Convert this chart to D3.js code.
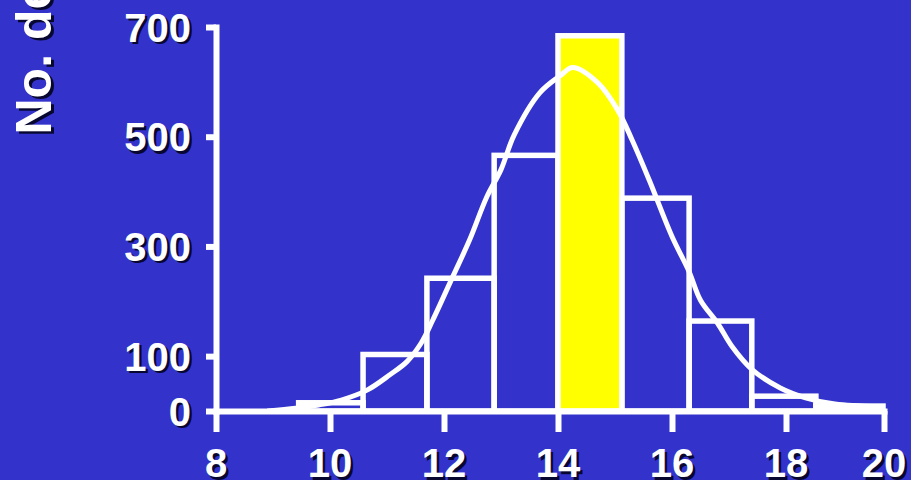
<!DOCTYPE html>
<html><head><meta charset="utf-8">
<script src="https://cdn.jsdelivr.net/npm/d3@7"></script>
<style>html,body{margin:0;padding:0;background:#3333cc;overflow:hidden}svg{display:block}</style>
</head><body>
<svg id="c" width="911" height="480"></svg>
<script>
// ---- data ----
const binEdges = [9.45, 10.58, 11.70, 12.88, 14.0, 15.12, 16.30, 17.40, 18.61, 19.98];
const binCounts = [15, 103, 242, 466, 684, 388, 164, 27, 9];
const highlightBin = 4;
const curveX = [8.9, 9.4, 9.8, 10.2, 10.65, 11.05, 11.35, 11.6, 11.8, 12.15, 12.45, 12.75, 13.0, 13.23, 13.68, 14.05, 14.26, 14.7, 15.05, 15.3, 15.6, 16.0, 16.3, 16.5, 16.8, 17.05, 17.4, 17.9, 18.4, 19.0, 19.9];
const curveY = [0, 5, 11, 20, 38, 66, 90, 124, 165, 244, 312, 390, 440, 503, 580, 612, 626, 598, 548, 494, 421, 318, 254, 202, 160, 118, 76, 42, 24, 13, 8];
const xTicks = [8, 10, 12, 14, 16, 18, 20];
const yTicks = [0, 100, 300, 500, 700];
const yLabel = "No. de indivíduos";

// ---- layout ----
const svg = d3.select("#c");
const W = 911, H = 480;
svg.append("rect").attr("width", W).attr("height", H).attr("fill", "#3333cc");

const x = d3.scaleLinear().domain([8, 18, 20]).range([216, 786, 884]);
const y = d3.scaleLinear().domain([0, 700]).range([411, 27]);

const FONT = "'Liberation Sans', Arial, Helvetica, sans-serif";
const SH = "rgba(0,0,20,0.85)";

// bars
const bins = binCounts.map((c, i) => ({c, x0: binEdges[i], x1: binEdges[i + 1], i}));
svg.append("g").selectAll("rect").data(bins).join("rect")
  .attr("x", d => x(d.x0))
  .attr("y", d => y(d.c))
  .attr("width", d => x(d.x1) - x(d.x0))
  .attr("height", d => y(0) - y(d.c))
  .attr("fill", d => d.i === highlightBin ? "#ffff00" : "none")
  .attr("stroke", "#ffffff")
  .attr("stroke-width", 5.5);

// curve
const pts = curveX.map((v, i) => [v, curveY[i]]);
svg.append("path")
  .attr("d", d3.line().x(d => x(d[0])).y(d => y(d[1])).curve(d3.curveCatmullRom.alpha(0.5))(pts))
  .attr("fill", "none").attr("stroke", "#ffffff").attr("stroke-width", 5)
  .attr("stroke-linejoin", "round");

// axes
const gx = svg.append("g").attr("transform", `translate(0,${y(0)})`)
  .call(d3.axisBottom(x).tickValues(xTicks).tickSize(21).tickSizeOuter(0).tickFormat(""));
const gy = svg.append("g").attr("transform", `translate(${x(8)},0)`)
  .call(d3.axisLeft(y).tickValues(yTicks).tickSize(10).tickSizeOuter(0).tickFormat(""));
[gx, gy].forEach(g => {
  g.select(".domain").attr("stroke", "#fff").attr("stroke-width", 6).attr("stroke-linecap", "square");
  g.selectAll(".tick line").attr("stroke", "#fff").attr("stroke-width", 6);
});

// labels with shadow
function shadowText(g, txt, px, py, anchor, size, rot) {
  const off = 2.5;
  const mk = (dx, dy, col) => g.append("text")
      .attr("transform", `translate(${px + dx},${py + dy})` + (rot ? ` rotate(${rot})` : ""))
      .attr("text-anchor", anchor)
      .attr("font-family", FONT).attr("font-weight", "bold").attr("font-size", size)
      .attr("fill", col).text(txt);
  mk(off, off, SH);
  mk(0, 0, "#ffffff");
}
const gl = svg.append("g");
xTicks.forEach(v => shadowText(gl, String(v), x(v), 477, "middle", 40));
yTicks.forEach(v => shadowText(gl, String(v), 191, y(v) + 14.5, "end", 40));
shadowText(gl, yLabel, 51, 134.5, "start", 50, -90);
</script>
</body></html>
